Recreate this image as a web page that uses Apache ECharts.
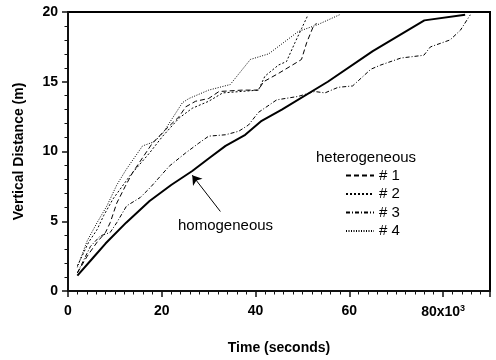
<!DOCTYPE html>
<html><head><meta charset="utf-8">
<script src="https://cdn.jsdelivr.net/npm/echarts@6/dist/echarts.min.js"></script>
<style>html,body{margin:0;padding:0;background:#fff}#c{width:496px;height:360px}</style>
</head><body><div id="c"></div>
<script>
// x in thousands of seconds, y in metres
const homogeneous = [[2,1.1],[5.4,2.4],[8,3.4],[12.4,4.9],[17.4,6.45],[22,7.6],[26.5,8.6],[30,9.5],[33.6,10.4],[37.8,11.2],[41.3,12.2],[45.6,13.0],[55.4,15.0],[65,17.2],[76,19.4],[84.7,19.8]];
const het1 = [[2,1.3],[4.1,2.5],[6.2,3.5],[8,4.2],[9,4.9],[10.4,6.3],[12.2,7.5],[13.8,8.5],[18,10.6],[20.9,11.6],[23.7,12.5],[25.1,13.2],[27.2,13.6],[30,13.8],[32.2,14.3],[37.1,14.4],[40.6,14.4],[41.7,15.0],[44.9,15.6],[49.1,16.45],[49.8,16.6],[50.9,17.8],[52.3,18.95],[53,19.2]];
const het2 = [[2,1.8],[4.4,3.5],[6.2,4.4],[7.6,5.4],[9.6,6.6],[13.3,8.3],[17.4,9.9],[20.2,11.1],[23.7,12.4],[26.5,13.1],[30,13.6],[33,14.2],[40.6,14.4],[42,15.4],[44.9,16.2],[46.6,16.45],[48.4,17.8],[49.8,18.8],[51.2,19.8]];
const het3 = [[2,1.3],[4.8,3.2],[6.9,3.95],[9,4.2],[10.4,4.9],[12.5,6.1],[15.4,6.7],[17.5,7.4],[21.6,8.95],[25.1,9.9],[27.9,10.6],[30,11.1],[33.6,11.2],[36.4,11.45],[38.5,11.9],[40.6,12.8],[44.5,13.7],[49.1,13.95],[52.6,14.3],[54.8,14.2],[57.6,14.6],[60.7,14.7],[64.6,15.9],[66.7,16.2],[71,16.7],[75.9,16.9],[77.3,17.5],[81.5,18.0],[83.7,18.7],[85.8,19.8]];
const het4 = [[2,1.7],[4.1,3.6],[6.2,4.9],[8.3,6.1],[10.4,7.6],[12.4,8.7],[15.9,10.4],[18.4,10.7],[20.2,11.3],[24.4,13.5],[25.8,13.8],[30,14.4],[34.6,14.8],[38.9,16.6],[42.8,17.0],[49.1,18.6],[53.3,19.1],[57.9,19.8]];
const legendNames = ['# 1','# 2','# 3','# 4'];
const xTickLabels = {0:'0',20:'20',40:'40',60:'60',80:'80x10{sup|3}'};
const arrowFrom = [32.5,5.7];
const arrowTo = [26.5,8.3];

const FONT = '"Liberation Sans", Arial, Helvetica, sans-serif';
const TICK = '#111111';
const chart = echarts.init(document.getElementById('c'));
const thin = (type) => ({color:'#000', width:1, type:type});
chart.setOption({
  animation:false,
  backgroundColor:'#fff',
  textStyle:{fontFamily:FONT},
  grid:{left:68, right:6, top:12, bottom:68, show:true, borderColor:'#000', borderWidth:2, backgroundColor:'transparent'},
  xAxis:{
    type:'value', min:0, max:90, interval:20,
    axisLine:{show:true, lineStyle:{color:TICK, width:2}},
    axisTick:{show:true, length:6, lineStyle:{color:TICK, width:1.5}},
    minorTick:{show:true, splitNumber:10, length:3.5, lineStyle:{color:TICK, width:1}},
    splitLine:{show:false},
    axisLabel:{color:'#000', fontSize:14, fontWeight:'bold', fontFamily:FONT, margin:13,
      formatter:(v)=> xTickLabels[v] !== undefined ? xTickLabels[v] : '',
      rich:{sup:{fontSize:9, fontWeight:'bold', fontFamily:FONT, verticalAlign:'top', padding:[0,0,8,0], color:'#000'}}},
    name:'Time (seconds)', nameLocation:'middle', nameGap:50,
    nameTextStyle:{color:'#000', fontSize:14, fontWeight:'bold', fontFamily:FONT}
  },
  yAxis:{
    type:'value', min:0, max:20, interval:5,
    axisLine:{show:true, lineStyle:{color:TICK, width:2}},
    axisTick:{show:true, length:6, lineStyle:{color:TICK, width:1.5}},
    minorTick:{show:true, splitNumber:5, length:3.5, lineStyle:{color:TICK, width:1}},
    splitLine:{show:false},
    axisLabel:{color:'#000', fontSize:14, fontWeight:'bold', fontFamily:FONT, margin:10},
    name:'Vertical Distance (m)', nameLocation:'middle', nameGap:42, nameRotate:90,
    nameTextStyle:{color:'#000', fontSize:14, fontWeight:'bold', fontFamily:FONT}
  },
  legend:{
    show:true, orient:'vertical', left:340, top:163, itemGap:3.5,
    itemWidth:28, itemHeight:14,
    data:legendNames,
    itemStyle:{opacity:0},
    textStyle:{color:'#000', fontSize:15, fontFamily:FONT},
    selectedMode:false
  },
  graphic:[
    {type:'text', left:316, top:150, style:{text:'heterogeneous', fill:'#000', font:'15px '+FONT}},
    {type:'text', left:178, top:218, style:{text:'homogeneous', fill:'#000', font:'15px '+FONT}}
  ],
  series:[
    {name:'homogeneous', type:'line', data:homogeneous, symbol:'none', lineStyle:{color:'#000', width:2}, itemStyle:{color:'#000'}, z:3,
      markLine:{silent:true, symbol:['none','arrow'], symbolSize:9, label:{show:false},
        itemStyle:{color:'#000'},
        lineStyle:{color:'#000', width:1, type:'solid'},
        data:[[{coord:arrowFrom},{coord:arrowTo}]]}},
    {name:legendNames[0], type:'line', data:het1, symbol:'none', itemStyle:{color:'#000'}, lineStyle:thin([5,3])},
    {name:legendNames[1], type:'line', data:het2, symbol:'none', itemStyle:{color:'#000'}, lineStyle:thin([2,2])},
    {name:legendNames[2], type:'line', data:het3, symbol:'none', itemStyle:{color:'#000'}, lineStyle:thin([4,2,1,2])},
    {name:legendNames[3], type:'line', data:het4, symbol:'none', itemStyle:{color:'#000'}, lineStyle:thin([1,1.5])}
  ]
});
</script></body></html>
